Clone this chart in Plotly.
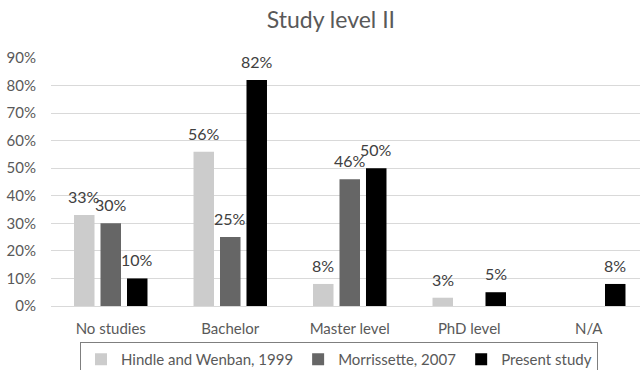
import plotly.graph_objects as go

# Study level shares per source
categories = ["No studies", "Bachelor", "Master level", "PhD level", "N/A"]
series_names = ["Hindle and Wenban, 1999", "Morrissette, 2007", "Present study"]
hindle_1999 = [0.33, 0.56, 0.08, 0.03, None]
morrissette_2007 = [0.30, 0.25, 0.46, None, None]
present_study = [0.10, 0.82, 0.50, 0.05, 0.08]
y_ticks = [0.0, 0.1, 0.2, 0.3, 0.4, 0.5, 0.6, 0.7, 0.8, 0.9]

series_values = [hindle_1999, morrissette_2007, present_study]
colors = ["#cccccc", "#666666", "#000000"]

FONT = "Lato"
TEXT = "#595959"

fig = go.Figure()
for name, vals, col in zip(series_names, series_values, colors):
    fig.add_trace(go.Bar(
        x=categories, y=vals, name=name,
        marker=dict(color=col, line=dict(width=0)),
    ))

# value labels above each bar, offset to the bar's slot within its group
slot_px = 26.5
annotations = []
for i, vals in enumerate(series_values):
    for cat, v in zip(categories, vals):
        if v is None:
            continue
        annotations.append(dict(
            x=cat, y=v, xref="x", yref="y",
            text=f"{round(v * 100)}%",
            showarrow=False, yanchor="bottom",
            xshift=(i - 1) * slot_px, yshift=7,
            font=dict(family=FONT, size=16, color="#404040"),
        ))

fig.update_layout(
    width=640, height=370,
    margin=dict(l=51, r=0, t=58, b=64, autoexpand=False),
    paper_bgcolor="white", plot_bgcolor="white",
    barmode="group", bargap=0.335, bargroupgap=0.226,
    title=dict(
        text="Study level II", x=0.517, xref="container", xanchor="center",
        y=1 - 20 / 370, yref="container", yanchor="middle",
        font=dict(family=FONT, size=23, color=TEXT),
    ),
    font=dict(family=FONT, color=TEXT),
    showlegend=True,
    legend=dict(
        orientation="h", xref="container", yref="container",
        x=80 / 640, xanchor="left", y=1 - 342 / 370, yanchor="top",
        bordercolor="#7f7f7f", borderwidth=1,
        font=dict(family=FONT, size=15, color=TEXT),
        traceorder="normal",
    ),
    annotations=annotations,
)
fig.update_xaxes(
    range=[-0.5, -0.5 + 589 / 119.5],
    showline=True, linecolor="#d9d9d9", linewidth=1,
    ticks="", tickfont=dict(family=FONT, size=15, color=TEXT),
    ticklabelstandoff=9,
)
fig.update_yaxes(
    range=[0, 0.9], tickvals=y_ticks, tickformat=".0%",
    showgrid=True, gridcolor="#d9d9d9", gridwidth=1,
    zeroline=False, showline=False, ticks="",
    tickfont=dict(family=FONT, size=15, color=TEXT),
    ticklabelstandoff=14,
)

fig.write_html("out.html")
